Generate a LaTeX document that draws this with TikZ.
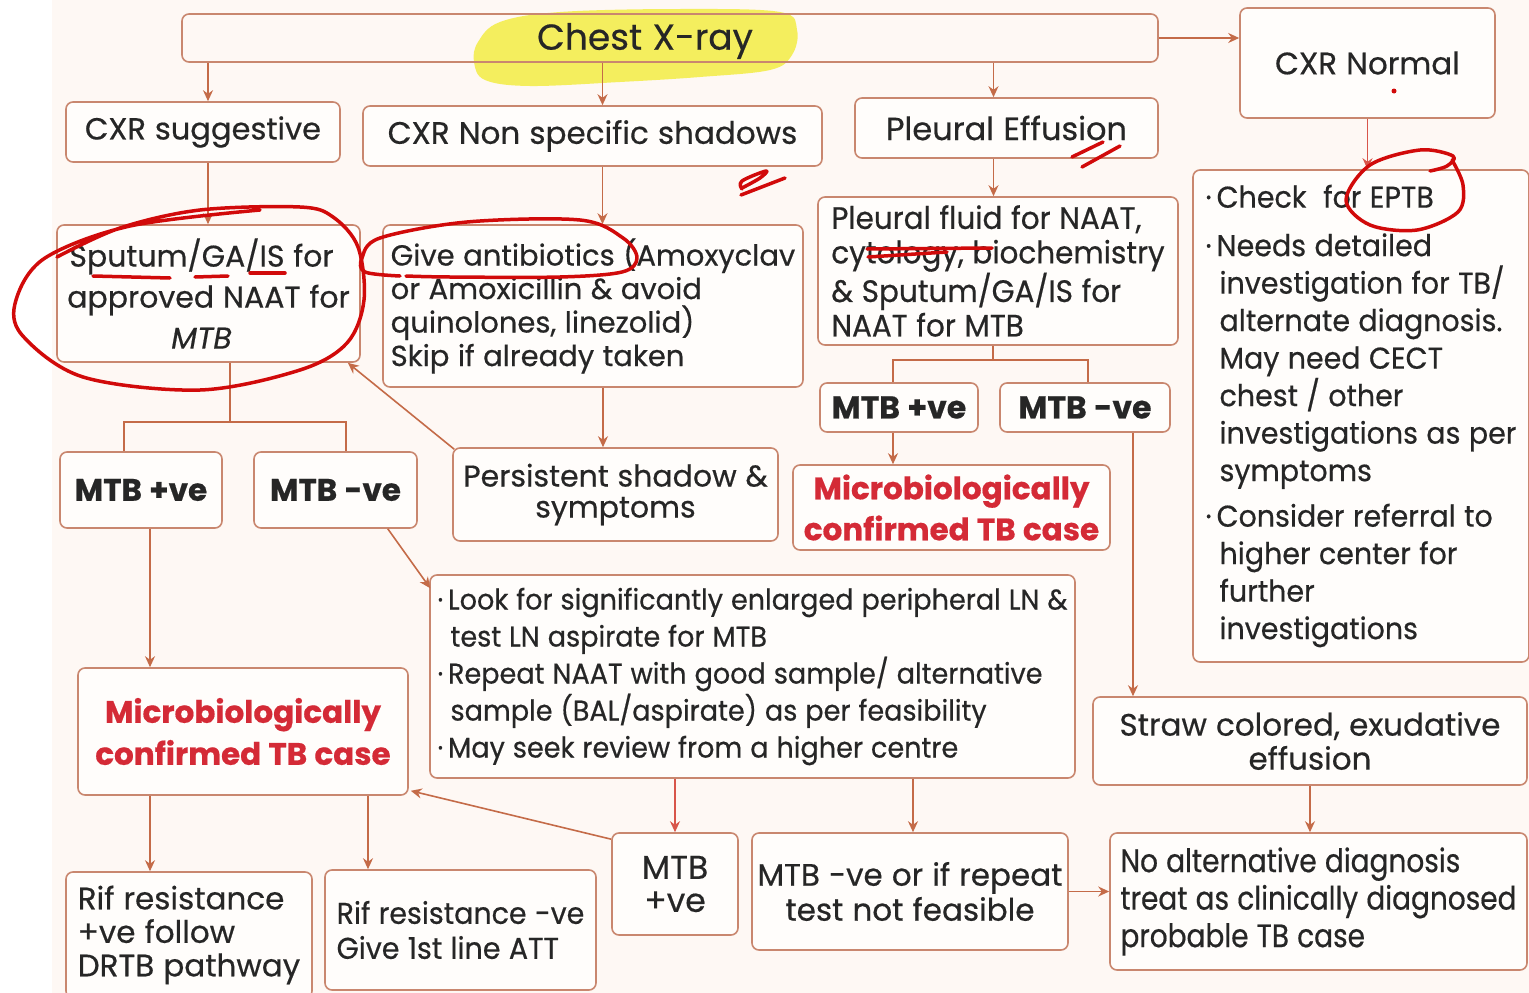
\documentclass[tikz,border=0pt]{standalone}
\usepackage{fontspec}
\setmainfont{Poppins}[WordSpace=1.1, FakeBold=0.5]
\newfontfamily\sA{Poppins}[FakeStretch=0.95, WordSpace=1.1, FakeBold=0.5]
\newfontfamily\sB{Poppins}[FakeStretch=0.9, WordSpace=1.1, FakeBold=0.5]
\newfontfamily\sC{Poppins}[FakeStretch=0.86, WordSpace=1.1, FakeBold=0.5]
\usetikzlibrary{arrows.meta}
\definecolor{boxc}{HTML}{C9876F}
\definecolor{arrc}{HTML}{C46B48}
\definecolor{arrred}{HTML}{D8554A}
\definecolor{textc}{HTML}{262626}
\definecolor{redtext}{HTML}{D42A36}
\definecolor{ink}{HTML}{D10A0A}
\definecolor{hl}{HTML}{F4EE4E}
\definecolor{bgc}{HTML}{FEF8F4}
\definecolor{boxfill}{HTML}{FFFDFB}
\newcommand\fsz[2]{\fontsize{#1}{#2}\selectfont}
\begin{document}
\begin{tikzpicture}[x=1pt,y=-1pt,
  box/.style={draw=boxc, line width=1.6pt, rounded corners=7pt, fill=boxfill,
    text=textc, inner sep=0pt},
  dims/.style 2 args={minimum width=#1pt, minimum height=#2pt},
  txt/.style={text=textc, inner sep=0pt},
  arr/.style={draw=arrc, line width=1.6pt, -{Stealth[length=11pt,width=10pt]}},
  arrr/.style={draw=arrred, line width=1.6pt, -{Stealth[length=11pt,width=10pt]}},
  conn/.style={draw=arrc, line width=1.6pt},
  inkline/.style={draw=ink, line width=3.5pt, line cap=round, line join=round},
  redbold/.style={text=redtext}]
\useasboundingbox (0,0) rectangle (1529,993);
\fill[white] (0,0) rectangle (1529,993);
\fill[bgc] (52,0) rectangle (1529,993);

% highlighter stroke behind the title
\fill[hl, opacity=0.9] plot[smooth cycle, tension=0.6] coordinates
  {(478,42) (500,22) (560,12) (680,9) (780,12) (797,30) (792,55) (770,70)
   (700,77) (620,82) (530,86) (485,80) (474,62)};

% ---- top row ----
\node[box, dims={976}{48}, fill=none] (cxr) at (670,38) {};
\node[txt, font={\fsz{36}{40}}] (cxrlabel) at (645,41) {Chest X-ray};
\node[box, dims={255}{110}, font={\fsz{31}{36}}] (cxrn) at (1367.5,63) {CXR Normal};

\node[box, dims={274}{60}, font={\fsz{30.5}{38}}] (sugg) at (203,132) {CXR suggestive};
\node[box, dims={459}{60}, font={\fsz{31}{36}}] (nonspec) at (592.5,136) {CXR Non specific shadows};
\node[box, dims={303}{60}, font={\fsz{32}{36}}] (pleff) at (1006.5,128) {Pleural Effusion};

% ---- second row ----
\node[box, dims={303}{137}, align=center, font={\fsz{30}{41}}] (sput) at (208.5,293.5)
  {Sputum/GA/IS for\hspace*{14pt}\\approved NAAT for\hspace*{14pt}\\\textit{MTB}\hspace*{14pt}};
\node[box, dims={420}{162}, align=left, font={\fsz{29}{33.5}}] (anti) at (593,306)
  {Give antibiotics (Amoxyclav\\or Amoxicillin \& avoid\\quinolones, linezolid)\\Skip if already taken};
\node[box, dims={360}{148}, align=left, font={\sA\fsz{31}{34.5}}] (pfluid) at (998,271)
  {Pleural fluid for NAAT,\\cytology, biochemistry\\\& Sputum/GA/IS for\\NAAT for MTB};
\node[box, dims={336}{492}, align=left, font={\sA\fsz{30}{37.5}}] (check) at (1361,416)
  {·\,Check\ \ for EPTB\\[11pt]
   ·\,Needs detailed\\
   \hspace*{14pt}investigation for TB/\\
   \hspace*{14pt}alternate diagnosis.\\
   \hspace*{14pt}May need CECT\\
   \hspace*{14pt}chest / other\\
   \hspace*{14pt}investigations as per\\
   \hspace*{14pt}symptoms\\[8pt]
   ·\,Consider referral to\\
   \hspace*{14pt}higher center for\\
   \hspace*{14pt}further\\
   \hspace*{14pt}investigations};

% ---- pleural branch ----
\node[box, dims={158}{49}, font={\fsz{31.5}{36}\bfseries}] (pmtbp) at (899,407.5) {MTB +ve};
\node[box, dims={170}{49}, font={\fsz{31.5}{36}\bfseries}] (pmtbn) at (1085,407.5) {MTB -ve};
\node[box, dims={317}{85}, align=center, redbold, font={\fsz{31}{41}\bfseries}] (pmicro) at (951.5,507.5)
  {Microbiologically\\confirmed TB case};
\node[box, dims={434}{88}, align=center, font={\fsz{31}{34}}] (straw) at (1310,741)
  {Straw colored, exudative\\effusion};
\node[box, dims={417}{137}, align=left, font={\sC\fsz{32.5}{37.5}}] (noalt) at (1318.5,901.5)
  {No alternative diagnosis\\treat as clinically diagnosed\\probable TB case};

% ---- left branch ----
\node[box, dims={162}{76}, font={\fsz{31}{38}\bfseries}] (lmtbp) at (141,490) {MTB +ve};
\node[box, dims={163}{76}, font={\fsz{31}{38}\bfseries}] (lmtbn) at (335.5,490) {MTB -ve};
\node[box, dims={325}{93}, align=center, font={\fsz{30}{31}}] (pers) at (615.5,494.5)
  {Persistent shadow \&\\symptoms};
\node[box, dims={330}{127}, align=center, redbold, font={\fsz{31}{42}\bfseries}] (lmicro) at (243,731.5)
  {Microbiologically\\confirmed TB case};
\node[box, dims={645}{203}, align=left, font={\sA\fsz{28.5}{37}}] (look) at (752.5,676.5)
  {·\,Look for significantly enlarged peripheral LN \&\\
   \hspace*{13pt}test LN aspirate for MTB\\
   ·\,Repeat NAAT with good sample/ alternative\\
   \hspace*{13pt}sample (BAL/aspirate) as per feasibility\\
   ·\,May seek review from a higher centre};

% ---- bottom row ----
\node[box, dims={126}{102}, align=center, font={\fsz{33}{33}}] (bmtbp) at (675,884) {MTB\\+ve};
\node[box, dims={316}{117}, align=center, font={\fsz{31}{35}}] (bmtbn) at (910,891.5)
  {MTB -ve or if repeat\\test not feasible};
\node[box, dims={246}{126}, align=left, font={\fsz{31}{33.5}}] (rifp) at (189,935)
  {Rif resistance\\+ve follow\\DRTB pathway};
\node[box, dims={271}{120}, align=left, font={\sA\fsz{30}{35}}] (rifn) at (460.5,930)
  {Rif resistance -ve\\Give 1st line ATT};

% ---- connectors ----
\draw[arr] (cxr.east) -- (cxr.east -| cxrn.west);
\draw[arr] ([xshift=5pt]sugg.north |- cxr.south) -- ([xshift=5pt]sugg.north);
\draw[arr] ([xshift=10pt]nonspec.north |- cxr.south) -- ([xshift=10pt]nonspec.north);
\draw[arr] ([xshift=-13pt]pleff.north |- cxr.south) -- ([xshift=-13pt]pleff.north);
\draw[arr] ([xshift=5pt]sugg.south) -- ([xshift=5pt]sugg.south |- sput.north);
\draw[arr] ([xshift=10pt]nonspec.south) -- ([xshift=10pt]nonspec.south |- anti.north);
\draw[arr] ([xshift=-13pt]pleff.south) -- ([xshift=-13pt]pleff.south |- pfluid.north);
\draw[arrr] (cxrn.south) -- (cxrn.south |- check.north);

\coordinate (s1) at (230,422);
\draw[conn] ([xshift=21.5pt]sput.south) -- (s1);
\draw[conn] ([xshift=-17pt]lmtbp.north) |- (s1) -| ([xshift=10.5pt]lmtbn.north);
\coordinate (s2) at (993,360);
\draw[conn] ([xshift=-5pt]pfluid.south) -- (s2);
\draw[conn] ([xshift=-6pt]pmtbp.north) |- (s2) -| ([xshift=3pt]pmtbn.north);

\draw[arr] ([xshift=-6pt]pmtbp.south) -- ([xshift=-6pt]pmtbp.south |- pmicro.north);
\draw[arr] ([xshift=48pt]pmtbn.south) -- ([xshift=48pt]pmtbn.south |- straw.north);
\draw[arr] (straw.south) -- (straw.south |- noalt.north);

\draw[arr] ([xshift=9pt]lmtbp.south) -- ([xshift=9pt]lmtbp.south |- lmicro.north);
\draw[arr] ([xshift=-30pt]lmtbn.south east) -- ([yshift=-14pt,xshift=1pt]look.north west);
\draw[arr] ([xshift=10pt]anti.south) -- ([xshift=10pt]anti.south |- pers.north);
\draw[arr] ([xshift=2pt,yshift=-2pt]pers.north west) -- ([xshift=-13pt]sput.south east);

\draw[arrr] (bmtbp.north |- look.south) -- (bmtbp.north);
\draw[arr] ([xshift=3pt]bmtbn.north |- look.south) -- ([xshift=3pt]bmtbn.north);
\draw[arr] (bmtbn.east) -- (bmtbn.east -| noalt.west);
\draw[arr] ([yshift=-7pt]bmtbp.north west) -- ([xshift=2pt,yshift=5pt]lmicro.south east);
\draw[arr] ([xshift=-93pt]lmicro.south) -- ([xshift=-93pt]lmicro.south |- rifp.north);
\draw[arr] ([xshift=125pt]lmicro.south) -- ([xshift=125pt]lmicro.south |- rifn.north);

% ---- red pen marks ----
\draw[inkline] plot[smooth, tension=0.55] coordinates
  {(57,257) (120,228) (200,210) (300,207) (333,217) (358,247) (364,300)
   (347,343) (300,370) (200,390) (83,377) (22,335) (16,300) (45,258)
   (130,226) (260,210)};
\draw[inkline] (93,276) -- (170,278);
\draw[inkline] (195,277) -- (228,276);
\draw[inkline] (250,273) -- (285,273);
\draw[inkline] plot[smooth, tension=0.55] coordinates
  {(400,276) (365,272) (362,258) (380,238) (467,222) (580,220) (623,238)
   (637,258) (622,272) (560,277) (450,277) (406,276)};
\draw[inkline] plot[smooth, tension=0.6] coordinates {(742,189) (742,181) (766,171) (760,178) (742,188)};
\draw[inkline] (741,195) -- (785,178);
\draw[inkline] (867,249) -- (992,248);
\draw[inkline] (868,257) -- (947,252);
\draw[inkline] (1072,157) -- (1103,142);
\draw[inkline] (1082,167) -- (1120,146);
\fill[ink] (1394,91) circle (2.5pt);
\draw[inkline] plot[smooth, tension=0.55] coordinates
  {(1430,171) (1447,166) (1453,156) (1420,150) (1370,165) (1346,200)
   (1370,225) (1417,230) (1458,212) (1463,185) (1452,160)};
\end{tikzpicture}
\end{document}
